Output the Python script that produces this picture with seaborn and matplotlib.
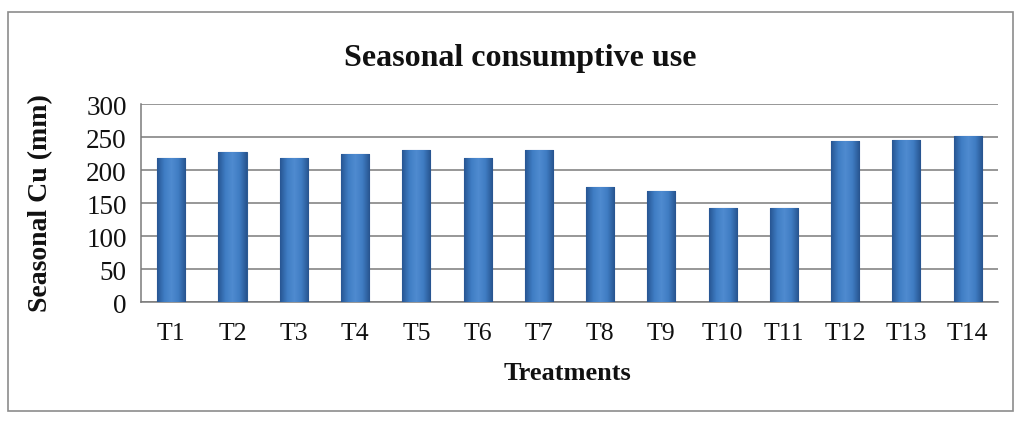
import numpy as np
import pandas as pd
import matplotlib
matplotlib.use("Agg")
import matplotlib.pyplot as plt
from matplotlib.patches import Rectangle
from matplotlib.colors import LinearSegmentedColormap
import seaborn as sns

# Seasonal consumptive use per treatment (mm)
treatments = ["T1", "T2", "T3", "T4", "T5", "T6", "T7",
              "T8", "T9", "T10", "T11", "T12", "T13", "T14"]
seasonal_cu = [218, 228, 219, 225, 230, 219, 231,
               174, 168, 143, 142, 244, 246, 252]
y_ticks = [0, 50, 100, 150, 200, 250, 300]

df = pd.DataFrame({"Treatment": treatments, "Seasonal Cu": seasonal_cu})

sns.set_theme(style="white")
plt.rcParams["font.family"] = ["Liberation Serif", "DejaVu Serif"]

fig = plt.figure(figsize=(10.27, 4.27), dpi=100)
fig.patch.set_facecolor("white")

# thin grey frame round the whole chart
fig.patches.append(Rectangle((0.008, 0.035), 0.978, 0.935, transform=fig.transFigure,
                             fill=False, edgecolor="#8c8c8c", linewidth=1.2))

ax = fig.add_axes([0.137, 0.290, 0.835, 0.464])

bar_color = "#3d78bd"
sns.barplot(data=df, x="Treatment", y="Seasonal Cu", color=bar_color,
            width=0.46, saturation=1, edgecolor="#2b5a92", linewidth=0.8,
            ax=ax, zorder=3)

# cylinder-like shading across each bar
shade = LinearSegmentedColormap.from_list(
    "bevel", ["#275693", "#3f7dc4", "#4f8bd0", "#3f7cc2", "#27548f"])
grad = np.linspace(0, 1, 64).reshape(1, -1)
for bar in ax.patches:
    x0, w, h = bar.get_x(), bar.get_width(), bar.get_height()
    im = ax.imshow(grad, cmap=shade, aspect="auto",
                   extent=(x0, x0 + w, 0, h), zorder=3.5)
    im.set_clip_path(bar)
ax.set_xlim(-0.5, len(treatments) - 0.5)
ax.set_ylim(0, 300)
ax.set_yticks(y_ticks)

# horizontal gridlines
ax.yaxis.grid(True, color="#7a7a7a", linewidth=1.1)
ax.xaxis.grid(False)
ax.set_axisbelow(True)

for side in ["top", "right"]:
    ax.spines[side].set_visible(False)
for side in ["left", "bottom"]:
    ax.spines[side].set_color("#7a7a7a")
    ax.spines[side].set_linewidth(1.1)

# tick marks between categories, labels centred under bars
ax.set_xticks(np.arange(-0.5, len(treatments), 1.0), minor=True)
ax.tick_params(axis="x", which="major", length=0, pad=14, labelsize=18.5, labelcolor="#111111")
ax.tick_params(axis="x", which="minor", length=6, width=1.0, color="#7a7a7a", direction="out")
ax.tick_params(axis="y", which="major", length=6, width=1.0, color="#7a7a7a",
               direction="out", labelsize=19.5, labelcolor="#111111", pad=4)

ax.set_xlabel("")
ax.set_ylabel("")
fig.text(0.553, 0.125, "Treatments", ha="center", va="center",
         fontsize=19, fontweight="bold", color="#111111")
fig.text(0.040, 0.525, "Seasonal Cu (mm)", ha="center", va="center", rotation=90,
         fontsize=20, fontweight="bold", color="#111111")
fig.text(0.507, 0.862, "Seasonal consumptive use", ha="center", va="center",
         fontsize=23, fontweight="bold", color="#111111")

fig.savefig("out.png", dpi=100, facecolor="white")
